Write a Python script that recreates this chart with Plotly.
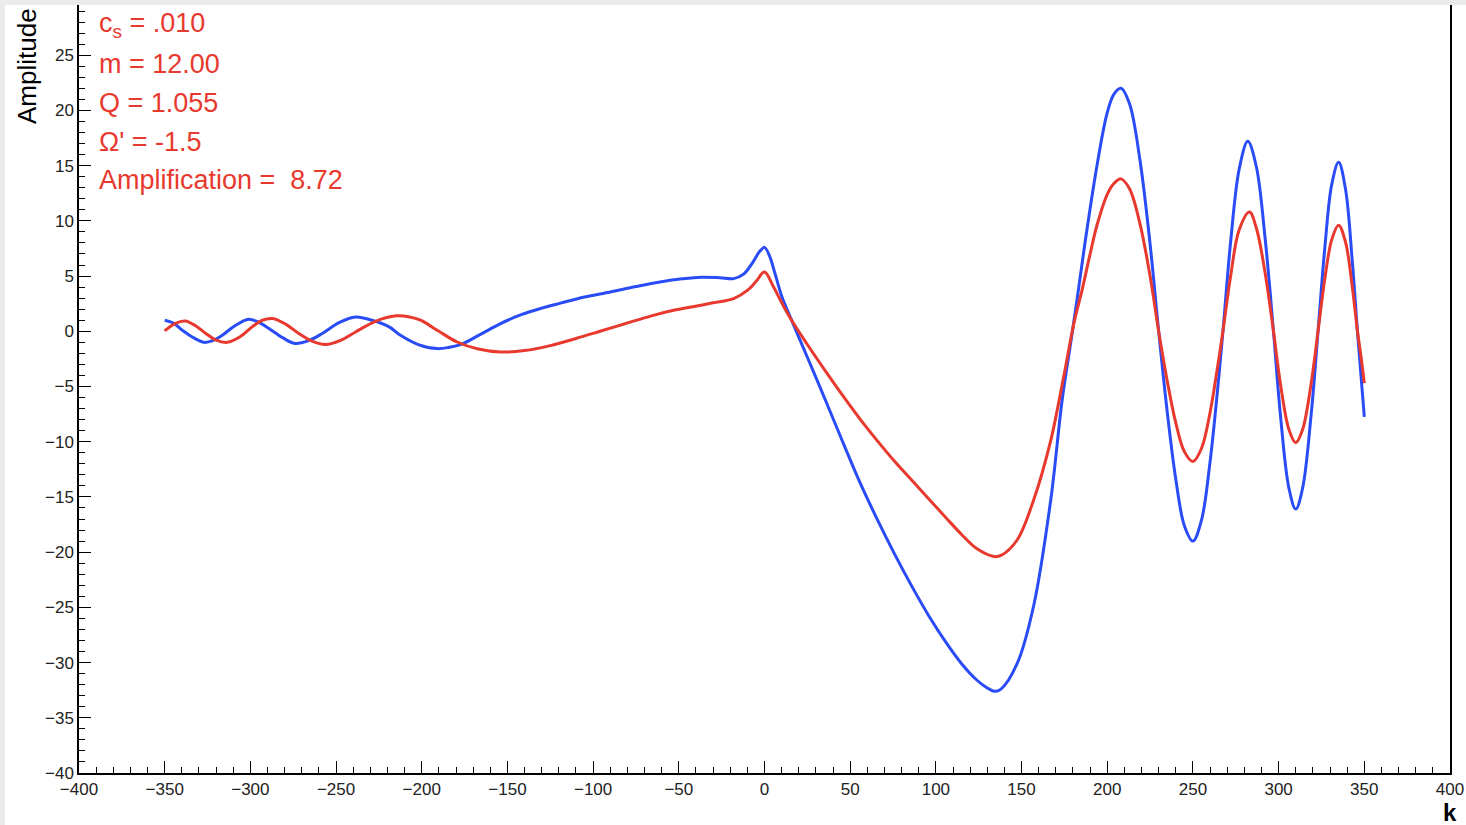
import plotly.graph_objects as go

# ---- data ----
k_blue = [-350, -345, -339.7, -333, -327, -322, -316.4, -309, -301, -295, -289, -281, -274, -266,
          -258, -248, -238.6, -229, -219, -212.4, -202, -191, -184, -177, -166, -154, -142, -131,
          -119, -105, -90, -75, -61, -48, -37, -26, -18, -12, -7, -3, 0, 3, 6, 10, 15, 25, 36,
          46, 56, 66, 76, 86, 96, 106, 115, 124, 130, 134, 138, 147.4, 157, 167, 173.7, 179.5,
          183.4, 187, 194, 200, 204, 208, 213, 219, 225, 230, 235, 240, 245, 250, 255, 260, 264,
          267.5, 272, 277, 282, 287, 292, 297, 301, 306, 310, 314, 319, 323, 327, 331, 335, 339,
          343, 346, 350]
a_blue = [1.0, 0.75, 0.1, -0.6, -1.0, -0.85, -0.36, 0.5, 1.09, 0.8, 0.24, -0.6, -1.1, -0.85,
          -0.2, 0.8, 1.3, 1.0, 0.4, -0.36, -1.2, -1.57, -1.45, -1.18, -0.3, 0.7, 1.5, 2.05,
          2.55, 3.1, 3.56, 4.05, 4.46, 4.75, 4.9, 4.85, 4.77, 5.2, 6.2, 7.2, 7.6, 6.8, 5.3, 3.2,
          1.3, -2.35, -6.4, -10.15, -13.8, -17.1, -20.2, -23.1, -25.8, -28.2, -30.1, -31.6, -32.3,
          -32.6, -32.4, -30.1, -24.9, -15.3, -6.2, -0.2, 4.0, 8.0, 15.0, 19.8, 21.5, 22.0, 20.6,
          15.6, 7.9, 0.0, -7.3, -13.4, -17.6, -19.0, -17.1, -11.8, -5.9, 0.0, 8.1, 14.7, 17.2,
          14.9, 8.6, 0.0, -7.5, -14.2, -16.1, -14.2, -7.5, 0.0, 7.65, 13.3, 15.3, 12.9, 6.3, 0.0,
          -7.75]

k_red = [-350, -344, -338, -332, -326, -320, -313.5, -306, -299, -293, -287, -279, -271.7, -264,
         -256, -247, -238.6, -227, -215, -207, -200.7, -190, -179.4, -167, -154, -140, -125,
         -110, -96, -81, -66, -53, -41, -30, -18, -10, -5, 0, 5, 10, 15, 25, 36, 46, 56,
         66, 76, 86, 96, 106, 115, 124, 134, 138, 147.4, 157, 167, 174.6, 180.5, 185.4, 190,
         194, 200, 204, 208, 213, 219, 225, 230, 235, 240, 245, 250, 255, 260, 264, 267.5, 272,
         277, 283, 287, 292, 297, 301, 306, 310, 314, 319, 323, 327, 331, 335, 339, 343, 346,
         348, 350]
a_red = [0.03, 0.7, 0.93, 0.5, -0.2, -0.8, -1.0, -0.5, 0.4, 1.0, 1.15, 0.6, -0.2, -0.9,
         -1.2, -0.8, -0.06, 0.9, 1.4, 1.3, 1.0, 0.0, -0.97, -1.6, -1.87, -1.75, -1.3,
         -0.65, 0.0, 0.7, 1.4, 1.9, 2.25, 2.58, 2.96, 3.7, 4.5, 5.37, 4.1, 2.6, 1.2, -1.2, -3.7,
         -5.9, -8.0, -9.95, -11.8, -13.5, -15.2, -16.9, -18.4, -19.7, -20.4, -20.3, -18.9, -15.3,
         -9.9, -4.1, 0.7, 3.8, 7.0, 9.6, 12.4, 13.4, 13.8, 12.9, 9.8, 5.0, 0.0, -4.5, -8.3,
         -10.9, -11.8, -10.6, -7.35, -3.6, 0.0, 5.0, 9.2, 10.8, 9.35, 5.4, 0.0, -4.7, -8.9,
         -10.1, -8.9, -4.7, 0.0, 4.8, 8.3, 9.6, 8.1, 4.0, 0.0, -2.2, -4.7]

info_lines = ["c<sub>s</sub> = .010", "m = 12.00", "Q = 1.055", "\u03a9' = -1.5",
              "Amplification =  8.72"]

x_range = [-400, 400]
y_range = [-40, 30]

BLUE = "#2a4cf6"
RED = "#e8392f"
FONT = "Liberation Sans, Arial, Helvetica, sans-serif"

W, H = 1466, 825
L, R, T, B = 79, 16, 0, 52
PW, PH = W - L - R, H - T - B


def px(xp):
    return (xp - L) / PW


def py(yp):
    return (H - B - yp) / PH


fig = go.Figure()
fig.add_trace(go.Scatter(x=k_blue, y=a_blue, mode="lines",
                         line=dict(color=BLUE, width=3, shape="spline", smoothing=1.0),
                         hoverinfo="skip", showlegend=False))
fig.add_trace(go.Scatter(x=k_red, y=a_red, mode="lines",
                         line=dict(color=RED, width=3, shape="spline", smoothing=1.0),
                         hoverinfo="skip", showlegend=False))

axis_common = dict(showgrid=False, zeroline=False, showline=True, linecolor="black",
                   linewidth=1.5, ticks="inside", ticklen=12, tickwidth=1.3,
                   tickcolor="black",
                   tickfont=dict(family=FONT, size=17, color="#222222"))

fig.update_xaxes(range=x_range, dtick=50, tick0=0, mirror=False,
                 minor=dict(dtick=10, ticklen=6, ticks="inside", tickcolor="black", tickwidth=1.3),
                 **axis_common)
fig.update_yaxes(range=y_range, dtick=5, tick0=0, mirror=True,
                 minor=dict(dtick=1, ticklen=6, ticks="inside", tickcolor="black", tickwidth=1.3),
                 **axis_common)

annotations = []
line_centers = [25, 64, 103, 142, 180]
for txt, yc in zip(info_lines, line_centers):
    annotations.append(dict(text=txt, xref="paper", yref="paper", x=px(97), y=py(yc),
                            xanchor="left", yanchor="middle", showarrow=False,
                            font=dict(family=FONT, size=27, color=RED)))
annotations.append(dict(text="Amplitude", xref="paper", yref="paper", x=px(27), y=py(66),
                        xanchor="center", yanchor="middle", textangle=-90, showarrow=False,
                        font=dict(family=FONT, size=26, color="black")))
annotations.append(dict(text="<b>k</b>", xref="paper", yref="paper", x=px(1450), y=py(812),
                        xanchor="center", yanchor="middle", showarrow=False,
                        font=dict(family=FONT, size=24, color="black")))

shapes = [
    dict(type="rect", xref="paper", yref="paper", x0=px(0), x1=px(W), y0=py(5), y1=py(0),
         fillcolor="#ebebeb", line=dict(width=0), layer="above"),
    dict(type="rect", xref="paper", yref="paper", x0=px(0), x1=px(5), y0=py(H), y1=py(0),
         fillcolor="#ebebeb", line=dict(width=0), layer="above"),
]

fig.update_layout(width=W, height=H, margin=dict(l=L, r=R, t=T, b=B),
                  paper_bgcolor="white", plot_bgcolor="white",
                  annotations=annotations, shapes=shapes, showlegend=False)

fig.write_html("out.html", config={"displayModeBar": False},
               post_script="document.body.style.margin='0';document.body.style.overflow='hidden';")
